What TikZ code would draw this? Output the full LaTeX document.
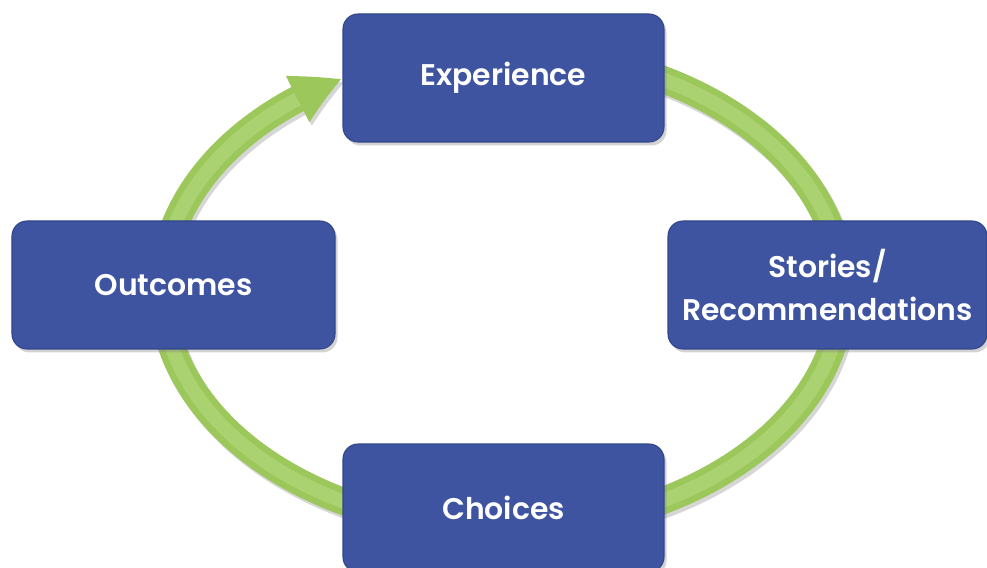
\documentclass[tikz,border=0pt]{standalone}
\usepackage{fontspec}
\setmainfont{Poppins}[BoldFont={Poppins SemiBold}]
\usetikzlibrary{arrows.meta,bending,shadows,calc}
\definecolor{CycleBlue}{HTML}{3E54A0}
\definecolor{CycleEdge}{HTML}{33468A}
\definecolor{RingGreen}{HTML}{9CC75A}
\definecolor{RingLight}{HTML}{ABD270}

\begin{document}
\begin{tikzpicture}[>=Latex,
    stage/.style={draw=CycleEdge,line width=.6pt,fill=CycleBlue,rounded corners=.3cm,
      minimum width=6.42cm,minimum height=2.56cm,align=center,text=white,
      font=\fontsize{17}{25}\selectfont\bfseries,
      drop shadow={shadow xshift=.05cm,shadow yshift=-.07cm,opacity=.35}},
    ring/.style={line width=.54cm,RingGreen}]
  \useasboundingbox (0,0) rectangle (19.74,11.34);
  \coordinate (C) at (10.04,5.54);

  % Soft shadow under the ring, then the ring itself ending in the arrow.
  \draw[ring,black!16,-{Triangle[bend,length=1cm,width=.95cm]}]
    ($(C)+(.05,4.71)$) arc[start angle=90,end angle=-242,x radius=6.8cm,y radius=4.78cm];
  \draw[ring,-{Triangle[bend,length=1cm,width=.95cm]}]
    ($(C)+(0,4.78)$) arc[start angle=90,end angle=-242,x radius=6.8cm,y radius=4.78cm];
  \draw[RingLight,line width=.28cm]
    ($(C)+(0,4.78)$) arc[start angle=90,end angle=-233,x radius=6.8cm,y radius=4.78cm];

  % The four stages of the cycle.
  \node[stage] (experience) at (10.07,9.78) {Experience};
  \node[stage,minimum width=6.46cm] (outcomes) at (3.47,5.64) {Outcomes};
  \node[stage,minimum width=6.38cm] (stories) at (16.55,5.64) {Stories/\\Recommendations};
  \node[stage] (choices) at (10.07,1.18) {Choices};
\end{tikzpicture}
\end{document}
